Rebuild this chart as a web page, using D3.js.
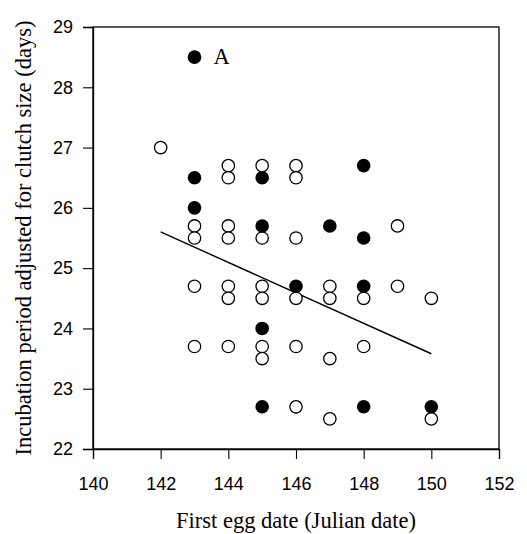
<!DOCTYPE html>
<html>
<head>
<meta charset="utf-8">
<script src="https://cdn.jsdelivr.net/npm/d3@7"></script>
<style>
  body { margin: 0; background: #fff; }
  .tick text { font-family: "Liberation Sans", Arial, sans-serif; font-size: 18px; }
  .title { font-family: "Liberation Serif", "Times New Roman", serif; font-size: 22.5px; }
</style>
</head>
<body>
<svg id="chart" width="527" height="534"></svg>
<script>
// first egg date (x) and adjusted incubation period (y)
const openX = [142, 143, 143, 143, 143,
    144, 144, 144, 144, 144, 144, 144,
    145, 145, 145, 145, 145, 145,
    146, 146, 146, 146, 146, 146,
    147, 147, 147, 147,
    148, 148, 149, 149, 150, 150];
const openY = [27.0, 25.7, 25.5, 24.7, 23.7,
    26.7, 26.5, 25.7, 25.5, 24.7, 24.5, 23.7,
    26.7, 25.5, 24.7, 24.5, 23.7, 23.5,
    26.7, 26.5, 25.5, 24.5, 23.7, 22.7,
    24.7, 24.5, 23.5, 22.5,
    24.5, 23.7, 25.7, 24.7, 24.5, 22.5];
const filledX = [143, 143, 143, 145, 145, 145, 145, 146, 147, 148, 148, 148, 148, 150];
const filledY = [28.5, 26.5, 26.0, 26.5, 25.7, 24.0, 22.7, 24.7, 25.7, 26.7, 25.5, 24.7, 22.7, 22.7];
// regression line end points
const fitX = [142, 150];
const fitY = [25.6, 23.58];
const xTicks = [140, 142, 144, 146, 148, 150, 152];
const yTicks = [22, 23, 24, 25, 26, 27, 28, 29];

const svg = d3.select("#chart");
const mLeft = 93, mRight = 499, mTop = 27, mBottom = 449;

const x = d3.scaleLinear().domain([140, 152]).range([mLeft, mRight]);
const y = d3.scaleLinear().domain([22, 29]).range([mBottom, mTop]);

// frame
svg.append("rect")
    .attr("x", mLeft).attr("y", mTop)
    .attr("width", mRight - mLeft).attr("height", mBottom - mTop)
    .attr("fill", "none").attr("stroke", "#000").attr("stroke-width", 1.3);

const xAxis = svg.append("g")
    .attr("transform", "translate(0," + mBottom + ")")
    .call(d3.axisBottom(x).tickValues(xTicks).tickFormat(d3.format("d")).tickSize(10).tickPadding(18));
const yAxis = svg.append("g")
    .attr("transform", "translate(" + mLeft + ",0)")
    .call(d3.axisLeft(y).tickValues(yTicks).tickFormat(d3.format("d")).tickSize(10).tickPadding(10));
[xAxis, yAxis].forEach(g => {
    g.select(".domain").attr("stroke-width", 1.3);
    g.selectAll(".tick line").attr("stroke-width", 1.1);
    g.selectAll(".tick text").attr("fill", "#000");
});

// regression line
svg.append("line")
    .attr("x1", x(fitX[0])).attr("y1", y(fitY[0]))
    .attr("x2", x(fitX[1])).attr("y2", y(fitY[1]))
    .attr("stroke", "#000").attr("stroke-width", 1.4);

const openPts = openX.map((d, i) => ({x: d, y: openY[i]}));
const filledPts = filledX.map((d, i) => ({x: d, y: filledY[i]}));

svg.selectAll("circle.open")
    .data(openPts)
    .enter()
    .append("circle")
    .attr("class", "open")
    .attr("cx", d => x(d.x))
    .attr("cy", d => y(d.y))
    .attr("r", 6.2)
    .attr("fill", "#fff")
    .attr("stroke", "#000")
    .attr("stroke-width", 1.3);

svg.selectAll("circle.filled")
    .data(filledPts)
    .enter()
    .append("circle")
    .attr("class", "filled")
    .attr("cx", d => x(d.x))
    .attr("cy", d => y(d.y))
    .attr("r", 6.8)
    .attr("fill", "#000");

// label for the outlier
svg.append("text")
    .attr("class", "title")
    .attr("x", x(143) + 19)
    .attr("y", y(28.5) + 7)
    .text("A");

svg.append("text")
    .attr("class", "title")
    .attr("x", (mLeft + mRight) / 2)
    .attr("y", 528)
    .attr("text-anchor", "middle")
    .text("First egg date (Julian date)");

svg.append("text")
    .attr("class", "title")
    .attr("transform", "translate(31," + ((mTop + mBottom) / 2) + ") rotate(-90)")
    .attr("text-anchor", "middle")
    .text("Incubation period adjusted for clutch size (days)");
</script>
</body>
</html>
